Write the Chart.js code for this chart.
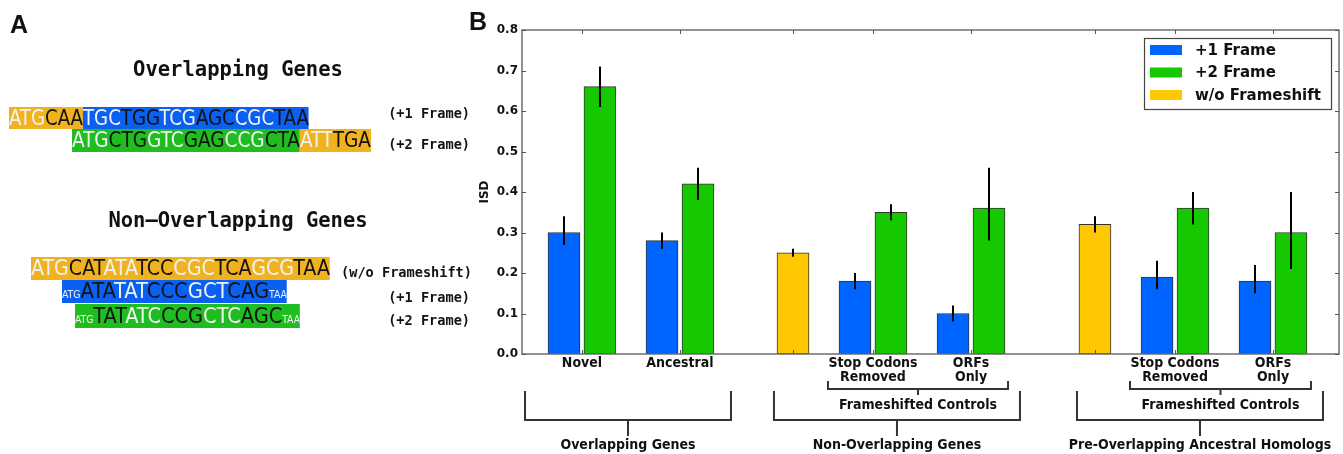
<!DOCTYPE html>
<html>
<head>
<meta charset="utf-8">
<script src="https://cdn.jsdelivr.net/npm/chart.js@4.4.0/dist/chart.umd.min.js"></script>
<style>
  html, body { margin:0; padding:0; background:#fff; }
  body { width:1343px; height:454px; position:relative; overflow:hidden; }
  #c { position:absolute; left:0; top:0; }
  .lbl { position:absolute; white-space:nowrap; }
  .panel { font-family:'Liberation Sans', Arial, sans-serif; font-weight:bold; font-size:25px; line-height:25px; color:#111; }
  .mtitle { font-family:'DejaVu Sans Mono', monospace; font-weight:bold; font-size:20.5px; color:#111; transform:translate(-50%,-50%); }
  .frame { font-family:'DejaVu Sans Mono', monospace; font-weight:bold; font-size:13.6px; color:#111; transform:translate(-100%,-50%); }
  .seq { position:absolute; white-space:nowrap; font-family:'DejaVu Sans Condensed','DejaVu Sans',sans-serif; font-size:21px; transform-origin:left top; }
  .seg { display:inline-block; vertical-align:top; }
  .sm { font-size:10px; }
</style>
</head>
<body>
<canvas id="c" width="1343" height="454"></canvas>
<div id="panelA"></div>
<script>
// ---------------- DATA ----------------
const seriesNames = ['+1 Frame', '+2 Frame', 'w/o Frameshift'];
const groupLabels = [['Novel'], ['Ancestral'], [''], ['Stop Codons', 'Removed'], ['ORFs', 'Only'], [''], ['Stop Codons', 'Removed'], ['ORFs', 'Only']];
const frame1   = [0.30, 0.28, 0.18, 0.10, 0.19, 0.18];
const frame1Lo = [0.27, 0.26, 0.16, 0.08, 0.16, 0.15];
const frame1Hi = [0.34, 0.30, 0.20, 0.12, 0.23, 0.22];
const frame2   = [0.66, 0.42, 0.35, 0.36, 0.36, 0.30];
const frame2Lo = [0.61, 0.38, 0.33, 0.28, 0.32, 0.21];
const frame2Hi = [0.71, 0.46, 0.37, 0.46, 0.40, 0.40];
const noShift   = [0.25, 0.32];
const noShiftLo = [0.24, 0.30];
const noShiftHi = [0.26, 0.34];
const yTicks = [0, 0.1, 0.2, 0.3, 0.4, 0.5, 0.6, 0.7, 0.8];
const yTitle = 'ISD';
const smallBracketLabels = ['Frameshifted Controls', 'Frameshifted Controls'];
const bigBracketLabels = ['Overlapping Genes', 'Non-Overlapping Genes', 'Pre-Overlapping Ancestral Homologs'];

// ---------------- LAYOUT (x axis units 0..100) ----------------
const groupX = [7.34, 19.34, 33.17, 42.96, 54.96, 70.13, 79.93, 91.92];
const pairGroups = [0, 1, 3, 4, 6, 7];
const singleGroups = [2, 5];
const pairOffset = 2.2;
const smallBrackets = [[37.45, 59.49], [74.42, 96.57]];
const bigBrackets = [[0.37, 25.58], [30.84, 60.95], [67.93, 98.04]];

const colors = ['rgb(0,100,255)', 'rgb(22,200,0)', 'rgb(255,200,0)'];
const condensed = "'DejaVu Sans Condensed', 'DejaVu Sans', sans-serif";

const errs = [
  {lo: frame1Lo, hi: frame1Hi},
  {lo: frame2Lo, hi: frame2Hi},
  {lo: noShiftLo, hi: noShiftHi}
];

const ds = [
  {label: seriesNames[0], data: frame1.map((v, i) => ({x: groupX[pairGroups[i]] - pairOffset, y: v})), backgroundColor: colors[0]},
  {label: seriesNames[1], data: frame2.map((v, i) => ({x: groupX[pairGroups[i]] + pairOffset, y: v})), backgroundColor: colors[1]},
  {label: seriesNames[2], data: noShift.map((v, i) => ({x: groupX[singleGroups[i]], y: v})), backgroundColor: colors[2]}
].map(d => Object.assign(d, {borderColor: '#333', borderWidth: 1, borderSkipped: false, barThickness: 32, grouped: false}));

const extras = {
  id: 'extras',
  afterDatasetsDraw(chart) {
    const ctx = chart.ctx, xs = chart.scales.x, ys = chart.scales.y;
    ctx.save();
    ctx.strokeStyle = '#000'; ctx.lineWidth = 2;
    chart.data.datasets.forEach((d, di) => {
      d.data.forEach((p, j) => {
        const px = Math.round(xs.getPixelForValue(p.x));
        ctx.beginPath();
        ctx.moveTo(px, ys.getPixelForValue(errs[di].lo[j]));
        ctx.lineTo(px, ys.getPixelForValue(errs[di].hi[j]));
        ctx.stroke();
      });
    });
    ctx.restore();
  },
  afterDraw(chart) {
    const ctx = chart.ctx, xs = chart.scales.x, ys = chart.scales.y, a = chart.chartArea;
    ctx.save();
    ctx.strokeStyle = '#6e6e6e'; ctx.lineWidth = 1.5;
    ctx.strokeRect(a.left, a.top, a.right - a.left, a.bottom - a.top);
    ctx.lineWidth = 1; ctx.strokeStyle = '#555';
    yTicks.forEach(t => {
      const py = Math.round(ys.getPixelForValue(t)) + 0.5;
      ctx.beginPath();
      ctx.moveTo(a.left, py); ctx.lineTo(a.left + 4, py);
      ctx.moveTo(a.right, py); ctx.lineTo(a.right - 4, py);
      ctx.stroke();
    });
    groupX.forEach(g => {
      const px = Math.round(xs.getPixelForValue(g)) + 0.5;
      ctx.beginPath();
      ctx.moveTo(px, a.bottom); ctx.lineTo(px, a.bottom - 4);
      ctx.moveTo(px, a.top); ctx.lineTo(px, a.top + 4);
      ctx.stroke();
    });
    ctx.save();
    ctx.translate(485, (a.top + a.bottom) / 2);
    ctx.rotate(-Math.PI / 2);
    ctx.fillStyle = '#111';
    ctx.font = "bold 12px 'DejaVu Sans'";
    ctx.textAlign = 'center'; ctx.textBaseline = 'middle';
    ctx.fillText(yTitle, 0, 0);
    ctx.restore();
    const lx = a.right - 195, ly = a.top + 8, lw = 187, lh = 71;
    ctx.fillStyle = '#fff';
    ctx.fillRect(lx, ly, lw, lh);
    ctx.strokeStyle = '#444'; ctx.lineWidth = 1.2;
    ctx.strokeRect(lx + 0.5, ly + 0.5, lw, lh);
    ctx.font = "bold 15px 'DejaVu Sans'";
    ctx.textBaseline = 'middle'; ctx.textAlign = 'left';
    chart.data.datasets.forEach((d, i) => {
      const cy = ly + 12 + i * 22.5;
      ctx.fillStyle = d.backgroundColor;
      ctx.fillRect(lx + 6, cy - 5, 32, 10);
      ctx.fillStyle = '#111';
      ctx.fillText(d.label, lx + 51, cy + 1);
    });
    ctx.strokeStyle = '#333'; ctx.lineWidth = 2;
    ctx.fillStyle = '#111';
    ctx.font = "bold 14px " + condensed;
    ctx.textAlign = 'center'; ctx.textBaseline = 'middle';
    smallBrackets.forEach((b, i) => {
      const x0 = xs.getPixelForValue(b[0]), x1 = xs.getPixelForValue(b[1]), xm = (x0 + x1) / 2;
      ctx.beginPath();
      ctx.moveTo(x0, 381); ctx.lineTo(x0, 389); ctx.lineTo(x1, 389); ctx.lineTo(x1, 381);
      ctx.moveTo(xm, 389); ctx.lineTo(xm, 395);
      ctx.stroke();
      ctx.fillText(smallBracketLabels[i], xm, 405);
    });
    bigBrackets.forEach((b, i) => {
      const x0 = xs.getPixelForValue(b[0]), x1 = xs.getPixelForValue(b[1]), xm = (x0 + x1) / 2;
      ctx.beginPath();
      ctx.moveTo(x0, 391); ctx.lineTo(x0, 420); ctx.lineTo(x1, 420); ctx.lineTo(x1, 391);
      ctx.moveTo(xm, 420); ctx.lineTo(xm, 436);
      ctx.stroke();
      ctx.fillText(bigBracketLabels[i], xm, 445);
    });
    ctx.restore();
  }
};

new Chart(document.getElementById('c'), {
  type: 'bar',
  data: {datasets: ds},
  options: {
    responsive: false,
    animation: false,
    layout: {padding: {left: 470, top: 30, right: 4, bottom: 0}},
    plugins: {legend: {display: false}, tooltip: {enabled: false}},
    scales: {
      x: {
        type: 'linear', min: 0, max: 100, offset: false,
        grid: {display: false, drawTicks: false, offset: false},
        border: {display: false},
        afterBuildTicks: s => { s.ticks = groupX.map(v => ({value: v})); },
        afterFit: s => { s.height = 100; },
        ticks: {
          autoSkip: false, maxRotation: 0, padding: 2,
          color: '#111',
          font: {family: condensed, weight: 'bold', size: 14, lineHeight: 1},
          callback: (v, i) => groupLabels[i]
        }
      },
      y: {
        min: 0, max: 0.8,
        grid: {display: false, drawTicks: false},
        border: {display: false},
        afterBuildTicks: s => { s.ticks = yTicks.map(v => ({value: v})); },
        afterFit: s => { s.width = 52; },
        ticks: {
          padding: 4, color: '#111',
          font: {family: "'DejaVu Sans'", weight: 'bold', size: 12},
          callback: v => v.toFixed(1)
        }
      }
    }
  },
  plugins: [extras]
});

// ---------------- PANEL A ----------------
const P = document.getElementById('panelA');
function addLabel(cls, text, x, y) {
  const d = document.createElement('div');
  d.className = 'lbl ' + cls;
  d.textContent = text;
  d.style.left = x + 'px'; d.style.top = y + 'px';
  P.appendChild(d);
}
addLabel('panel', 'A', 10, 12);
addLabel('panel', 'B', 469, 9);
addLabel('mtitle', 'Overlapping Genes', 238, 69);
addLabel('mtitle', 'Non\u2013Overlapping Genes', 238, 220);
addLabel('frame', '(+1 Frame)', 470, 113);
addLabel('frame', '(+2 Frame)', 470, 144);
addLabel('frame', '(w/o Frameshift)', 472, 272);
addLabel('frame', '(+1 Frame)', 470, 297);
addLabel('frame', '(+2 Frame)', 470, 320);

const Y = '#f0b21e', B = '#0a60f0', G = '#1fbd1f';
const seqRows = [
  {left: 9,  top: 107, width: 300, h: 22, segs: [[Y, ['ATG', 'CAA']], [B, ['TGC', 'TGG', 'TCG', 'AGC', 'CGC', 'TAA']]]},
  {left: 72, top: 129, width: 299, h: 23, segs: [[G, ['ATG', 'CTG', 'GTC', 'GAG', 'CCG', 'CTA']], [Y, ['ATT', 'TGA']]]},
  {left: 31, top: 257, width: 299, h: 23, segs: [[Y, ['ATG', 'CAT', 'ATA', 'TCC', 'CGC', 'TCA', 'GCG', 'TAA']]]},
  {left: 62, top: 280, width: 225, h: 23, segs: [[B, ['atg', 'ATA', 'TAT', 'CCC', 'GCT', 'CAG', 'taa']]]},
  {left: 75, top: 304, width: 225, h: 24, segs: [[G, ['atg', 'TAT', 'ATC', 'CCG', 'CTC', 'AGC', 'taa']]]}
];
seqRows.forEach(r => {
  const row = document.createElement('div');
  row.className = 'seq';
  row.style.left = r.left + 'px'; row.style.top = r.top + 'px';
  row.style.height = r.h + 'px'; row.style.lineHeight = r.h + 'px';
  let k = 0;
  r.segs.forEach(([bg, codons]) => {
    const s = document.createElement('span');
    s.className = 'seg';
    s.style.background = bg; s.style.height = r.h + 'px';
    codons.forEach(c => {
      const t = document.createElement('span');
      t.textContent = c.toUpperCase();
      if (c !== c.toUpperCase()) t.className = 'sm';
      t.style.color = (k % 2 === 0) ? '#f2f2f2' : '#111';
      k++;
      s.appendChild(t);
    });
    row.appendChild(s);
  });
  P.appendChild(row);
  const w = row.getBoundingClientRect().width;
  row.style.transform = 'scaleX(' + (r.width / w) + ')';
});
</script>
</body>
</html>
